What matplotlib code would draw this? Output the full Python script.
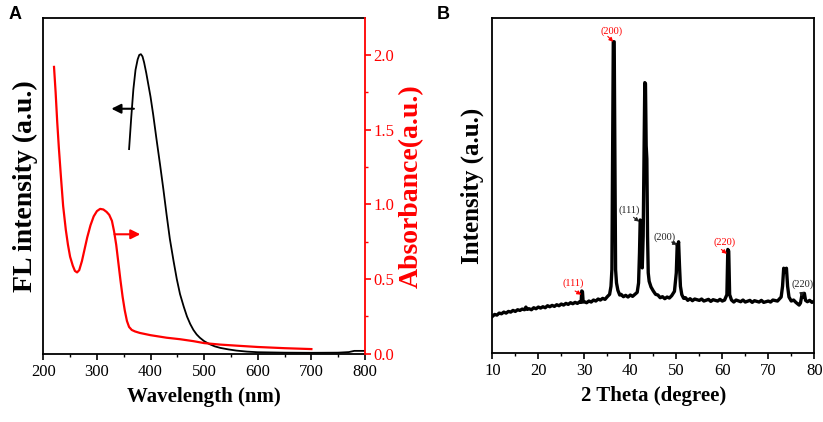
import matplotlib
matplotlib.use("Agg")
import matplotlib.pyplot as plt
from matplotlib.ticker import MultipleLocator, FormatStrFormatter

plt.rcParams['font.family'] = ['Liberation Serif', 'DejaVu Serif']

# ---------------- Panel A data ----------------
fl_wl = [360, 364, 368, 372, 376, 379, 382, 385, 388, 392, 396, 400, 405, 411, 418, 424, 430,
         436, 443, 449, 455, 462, 468, 474, 480, 486, 492, 500, 510, 520, 530, 545,
         560, 580, 600, 650, 700, 750, 770, 780, 800]
fl_int = [1.37, 1.58, 1.77, 1.90, 1.97, 2.00, 2.005, 1.99, 1.95, 1.88, 1.80, 1.72, 1.60, 1.44, 1.26, 1.10, 0.93,
          0.77, 0.62, 0.50, 0.40, 0.315, 0.25, 0.20, 0.16, 0.13, 0.108, 0.085, 0.065, 0.05, 0.04, 0.03,
          0.022, 0.015, 0.011, 0.008, 0.007, 0.008, 0.012, 0.02, 0.02]

abs_wl = [220, 223, 226, 229, 233, 237, 242, 246, 250, 255, 259, 263, 267, 272, 277,
          282, 288, 294, 300, 306, 312, 318, 323, 328, 332, 336, 340, 344, 348, 352,
          356, 360, 365, 371, 380, 400, 430, 455, 480, 500, 530, 560, 600, 650, 700]
abs_val = [1.92, 1.75, 1.55, 1.38, 1.18, 0.99, 0.83, 0.73, 0.65, 0.59, 0.555, 0.545, 0.56, 0.62, 0.70,
           0.78, 0.86, 0.92, 0.955, 0.97, 0.966, 0.95, 0.93, 0.89, 0.82, 0.73, 0.61, 0.49, 0.38, 0.29,
           0.22, 0.18, 0.16, 0.15, 0.14, 0.125, 0.108, 0.098, 0.085, 0.072, 0.062, 0.055, 0.046, 0.038, 0.032]

wl_ticks = [200, 300, 400, 500, 600, 700, 800]
abs_ticks = [0.0, 0.5, 1.0, 1.5, 2.0]

# arrows: (tail_x, tail_y, head_x, head_y)
fl_arrow = (369, 1.64, 327, 1.64)
abs_arrow = (333, 0.80, 381, 0.80)

# ---------------- Panel B data ----------------
xrd_2theta = [10.0, 10.5, 11.0, 11.5, 12.0, 12.5, 13.0, 13.5, 14.0, 14.5, 15.0, 15.5, 16.0, 16.5,
              17.0, 17.3, 17.6, 18.0, 18.5, 19.0, 19.5, 20.0, 20.5, 21.0, 21.5, 22.0, 22.5, 23.0,
              23.5, 24.0, 24.5, 25.0, 25.5, 26.0, 26.5, 27.0, 27.5, 28.0, 28.5, 29.0, 29.3, 29.45,
              29.6, 29.75, 30.0, 30.5, 31.0, 31.5, 32.0, 32.5, 33.0, 33.5, 34.0, 34.5, 35.0, 35.5,
              35.8, 36.0, 36.15, 36.3, 36.5, 36.65, 36.8, 37.0, 37.3, 37.7, 38.0, 38.5, 39.0, 39.5,
              40.0, 40.5, 41.0, 41.5, 41.8, 42.0, 42.15, 42.3, 42.45, 42.6, 42.8, 43.0, 43.15, 43.3,
              43.45, 43.6, 43.75, 43.9, 44.1, 44.5, 45.0, 45.5, 46.0, 46.5, 47.0, 47.5, 48.0, 48.5,
              49.0, 49.6, 50.0, 50.2, 50.35, 50.5, 50.7, 50.9, 51.2, 51.6, 52.0, 52.5, 53.0, 53.5,
              54.0, 55.0, 55.5, 56.0, 57.0, 57.5, 58.0, 59.0, 59.5, 60.0, 60.5, 61.0, 61.2, 61.4,
              61.6, 62.0, 62.5, 63.0, 64.0, 64.5, 65.0, 66.0, 66.5, 67.0, 68.0, 68.5, 69.0, 70.0,
              70.5, 71.0, 72.0, 72.8, 73.1, 73.35, 73.65, 73.95, 74.2, 74.5, 75.0, 75.5, 76.0, 76.7,
              77.0, 77.3, 77.6, 77.85, 78.1, 78.5, 79.0, 79.5, 80.0]
xrd_int = [11.0, 11.6, 11.4, 12.0, 11.8, 12.3, 12.0, 12.5, 12.3, 12.8, 12.5, 13.0, 12.8, 13.2,
           13.0, 13.8, 13.1, 13.3, 13.0, 13.6, 13.3, 13.8, 13.5, 13.9, 13.6, 14.2, 13.9, 14.3,
           14.0, 14.5, 14.2, 14.7, 14.4, 14.9, 14.6, 15.1, 14.8, 15.2, 14.9, 15.4, 15.2, 18.6,
           18.4, 15.3, 15.4, 15.1, 15.6, 15.3, 15.9, 15.6, 16.2, 15.9, 16.4, 16.1, 16.9, 17.6,
           20.0, 25.0, 60.0, 93.0, 93.0, 60.0, 25.0, 21.0, 18.8, 17.4, 17.6, 16.9, 17.3, 16.8,
           17.4, 17.0, 17.6, 18.2, 21.0, 30.0, 39.8, 39.0, 28.0, 25.5, 35.0, 60.0, 80.8, 80.5,
           62.0, 58.0, 35.0, 24.0, 21.5, 19.8, 18.6, 17.6, 17.4, 16.6, 16.9, 16.3, 16.8, 16.5,
           17.2, 18.5, 24.0, 32.5, 32.0, 33.3, 26.0, 20.0, 17.5, 16.4, 16.6, 15.8, 16.3, 15.7,
           16.2, 15.8, 16.2, 15.6, 16.1, 15.5, 16.0, 15.6, 16.1, 15.6, 15.9, 17.5, 31.0, 30.5,
           17.5, 15.9, 15.3, 15.9, 15.4, 15.9, 15.3, 15.8, 15.2, 15.7, 15.3, 15.8, 15.2, 15.6,
           15.3, 15.9, 15.6, 16.8, 20.0, 25.4, 24.3, 25.4, 20.0, 16.8, 15.6, 15.9, 15.2, 14.4,
           15.0, 17.3, 16.8, 17.9, 15.8, 15.4, 15.8, 15.2, 15.6]

theta_ticks = [10, 20, 30, 40, 50, 60, 70, 80]

# peak labels: text, colour, text position, arrow tail, arrow tip
hkl_text = ["(200)", "(111)", "(200)", "(220)", "(111)", "(220)"]
hkl_color = ["red", "#222222", "#222222", "red", "red", "#222222"]
hkl_text_xy = [(35.96, 96.3), (39.8, 42.6), (47.4, 34.6), (60.4, 33.1), (27.6, 20.9), (77.5, 20.6)]
hkl_tail_xy = [(35.1, 94.6), (40.7, 40.6), (49.0, 33.2), (59.8, 31.0), (28.0, 18.6), (77.0, 17.6)]
hkl_tip_xy = [(36.3, 93.0), (41.95, 39.3), (50.2, 32.4), (61.0, 29.7), (29.35, 17.5), (77.9, 18.4)]

# ---------------- Figure ----------------
fig = plt.figure(figsize=(8.23, 4.22), dpi=100)

# Panel A
axA = fig.add_axes([0.0526, 0.1604, 0.3909, 0.7962])
axA.plot(fl_wl, fl_int, color='black', lw=1.3)
axA.set_xlim(200, 800)
axA.set_ylim(-0.003, 2.245)
axA.set_yticks([])
axA.set_xticks(wl_ticks)
axA.xaxis.set_minor_locator(MultipleLocator(50))
axA.tick_params(axis='x', which='major', direction='out', length=4, width=1.2, labelsize=12, pad=3)
axA.tick_params(axis='x', which='minor', direction='out', length=2.5, width=1.0)
for s in ['left', 'bottom', 'top']:
    axA.spines[s].set_linewidth(1.3)
axA.spines['right'].set_visible(False)
axA.set_xlabel('Wavelength (nm)', fontsize=15, fontweight='bold', labelpad=5)
axA.set_ylabel('FL intensity (a.u.)', fontsize=20, fontweight='bold', labelpad=4)

axA2 = axA.twinx()
axA2.plot(abs_wl, abs_val, color='red', lw=1.6)
axA2.set_ylim(-0.003, 2.245)
axA2.set_yticks(abs_ticks)
axA2.yaxis.set_minor_locator(MultipleLocator(0.25))
axA2.tick_params(axis='y', which='major', direction='out', length=4, width=1.2, colors='red',
                 labelsize=12, pad=2)
axA2.tick_params(axis='y', which='minor', direction='out', length=2.5, width=1.0, colors='red')
axA2.spines['right'].set_color('red')
axA2.spines['right'].set_linewidth(1.3)
for s in ['left', 'bottom', 'top']:
    axA2.spines[s].set_visible(False)
axA2.set_ylabel('Absorbance(a.u.)', fontsize=20, fontweight='bold', color='red', labelpad=3)
axA2.yaxis.set_major_formatter(FormatStrFormatter('%.1f'))

axA.annotate('', xy=(fl_arrow[2], fl_arrow[3]), xytext=(fl_arrow[0], fl_arrow[1]),
             arrowprops=dict(arrowstyle='-|>', color='black', lw=1.5, mutation_scale=14,
                             shrinkA=0, shrinkB=0))
axA2.annotate('', xy=(abs_arrow[2], abs_arrow[3]), xytext=(abs_arrow[0], abs_arrow[1]),
              arrowprops=dict(arrowstyle='-|>', color='red', lw=1.5, mutation_scale=14,
                              shrinkA=0, shrinkB=0))

fig.text(0.010, 0.985, 'A', fontsize=13, fontweight='bold', family='Liberation Sans',
         ha='left', va='top')

# Panel B
axB = fig.add_axes([0.5982, 0.1628, 0.3912, 0.7938])
axB.plot(xrd_2theta, xrd_int, color='black', lw=2.4)
axB.set_xlim(10, 80)
axB.set_ylim(0, 100)
axB.set_yticks([])
axB.set_xticks(theta_ticks)
axB.xaxis.set_minor_locator(MultipleLocator(5))
axB.tick_params(axis='x', which='major', direction='out', length=4, width=1.2, labelsize=12, pad=3)
axB.tick_params(axis='x', which='minor', direction='out', length=2.5, width=1.0)
for s in axB.spines.values():
    s.set_linewidth(1.3)
axB.set_xlabel('2 Theta (degree)', fontsize=15, fontweight='bold', labelpad=5)
axB.set_ylabel('Intensity (a.u.)', fontsize=18, fontweight='bold', labelpad=6)

for t, c, (tx, ty), (ax_, ay_), (px, py) in zip(hkl_text, hkl_color, hkl_text_xy,
                                                   hkl_tail_xy, hkl_tip_xy):
    axB.text(tx, ty, t, color=c, fontsize=7.5, ha='center', va='center')
    axB.annotate('', xy=(px, py), xytext=(ax_, ay_),
                 arrowprops=dict(arrowstyle='-|>', color=c, lw=0.8, mutation_scale=6,
                                 shrinkA=0, shrinkB=0))

fig.text(0.531, 0.985, 'B', fontsize=13, fontweight='bold', family='Liberation Sans',
         ha='left', va='top')

fig.savefig('out.png', dpi=100)
